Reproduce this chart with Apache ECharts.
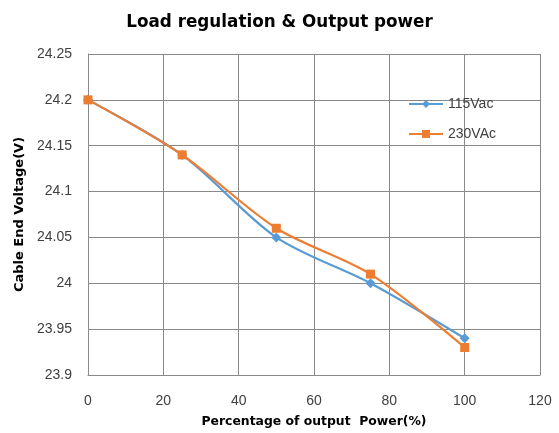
<!DOCTYPE html>
<html><head><meta charset="utf-8">
<script src="https://cdn.jsdelivr.net/npm/echarts@6/dist/echarts.min.js"></script>
<style>html,body{margin:0;padding:0;background:#fff}#c{width:559px;height:433px}</style>
</head><body><div id="c"></div>
<script>
const xValues = [0, 25, 50, 75, 100];
const v115 = [24.2, 24.14, 24.05, 24.0, 23.94];
const v230 = [24.2, 24.14, 24.06, 24.01, 23.93];
const seriesNames = ['115Vac', '230VAc'];
const pair = (xs, ys) => xs.map((x, i) => [x, ys[i]]);
const F = '"Liberation Sans", Arial, sans-serif';
const FB = '"DejaVu Sans", sans-serif';
const chart = echarts.init(document.getElementById('c'), null, {renderer: 'canvas'});
chart.setOption({
  animation: false,
  title: {text: 'Load regulation & Output power', left: 'center', top: 9,
    textStyle: {fontFamily: FB, fontSize: 16.8, fontWeight: 'bold', color: '#000'}},
  grid: {left: 88, right: 19, top: 54, bottom: 56},
  legend: {orient: 'vertical', left: 408, top: 97, padding: 0, itemGap: 16, itemWidth: 34, itemHeight: 10,
    data: seriesNames,
    textStyle: {fontFamily: F, fontSize: 14, color: '#404040'}},
  xAxis: {type: 'value', min: 0, max: 120, interval: 20,
    name: 'Percentage of output  Power(%)', nameLocation: 'middle', nameGap: 41,
    nameTextStyle: {fontFamily: FB, fontSize: 12.4, fontWeight: 'bold', color: '#000'},
    axisLine: {lineStyle: {color: '#898989'}}, axisTick: {show: false},
    axisLabel: {fontFamily: F, fontSize: 14, color: '#404040', margin: 19},
    splitLine: {show: true, lineStyle: {color: '#898989'}}},
  yAxis: {type: 'value', min: 23.9, max: 24.25, interval: 0.05,
    name: 'Cable End Voltage(V)', nameLocation: 'middle', nameGap: 60,
    nameTextStyle: {fontFamily: FB, fontSize: 13, fontWeight: 'bold', color: '#000'},
    axisLine: {show: true, lineStyle: {color: '#898989'}}, axisTick: {show: false},
    axisLabel: {fontFamily: F, fontSize: 14, color: '#404040', margin: 16},
    splitLine: {show: true, lineStyle: {color: '#898989'}}},
  series: [
    {name: seriesNames[0], type: 'line', smooth: 0.3, data: pair(xValues, v115),
      symbol: 'diamond', symbolSize: 10, color: '#5B9BD5', lineStyle: {width: 2.2, color: '#5B9BD5'},
      itemStyle: {color: '#5B9BD5'}},
    {name: seriesNames[1], type: 'line', smooth: 0.3, data: pair(xValues, v230),
      symbol: 'rect', symbolSize: 9, color: '#ED7D31', lineStyle: {width: 2.2, color: '#ED7D31'},
      itemStyle: {color: '#ED7D31'}}
  ]
});
</script></body></html>
